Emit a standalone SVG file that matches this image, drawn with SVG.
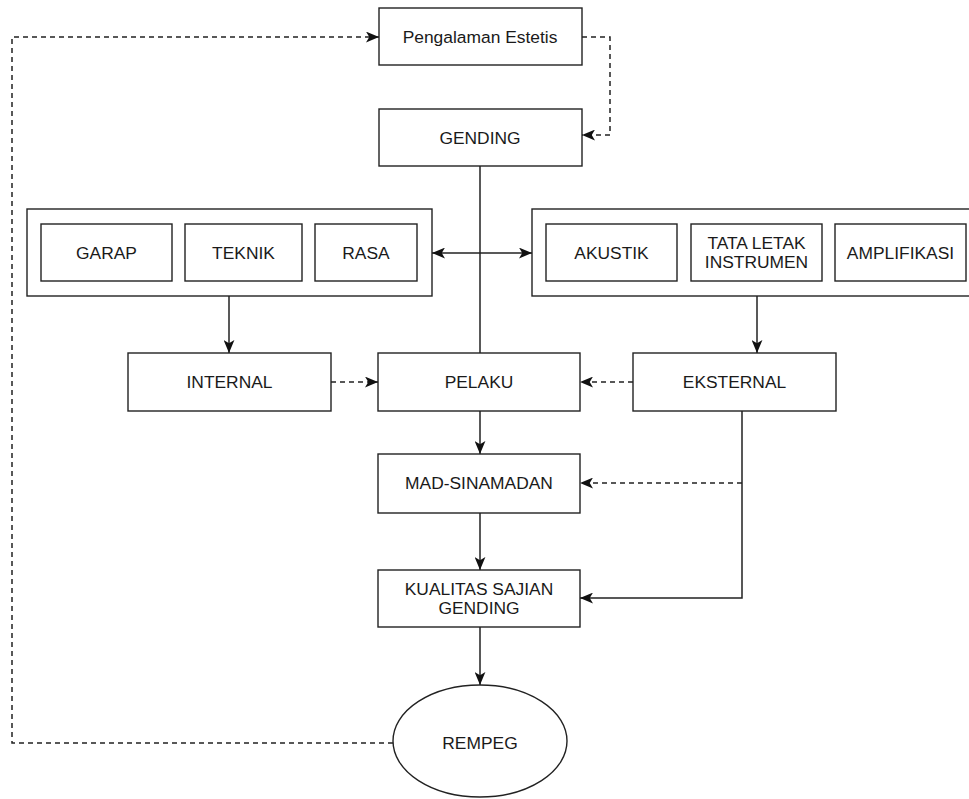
<svg xmlns="http://www.w3.org/2000/svg" width="969" height="799" viewBox="0 0 969 799">
<style>
.box{fill:#fff;stroke:#222;stroke-width:1.4}
.t{font-family:"Liberation Sans",Arial,sans-serif;font-size:17.4px;fill:#1a1a1a;text-anchor:middle;dominant-baseline:central}
.c{fill:none;stroke:#222;stroke-width:1.5}
.d{stroke-dasharray:5 4}
.a{marker-end:url(#arr)}
</style>
<defs>
<marker id="arr" viewBox="0 0 12 10" markerWidth="13" markerHeight="11" refX="12" refY="5" orient="auto-start-reverse" markerUnits="userSpaceOnUse">
<path d="M0,0 L12,5 L0,10 L3,5 Z" fill="#111"/>
</marker>
</defs>
<rect width="969" height="799" fill="#fff"/>
<g id="connectors">
<path class="c d a" d="M393,743 H12 V37 H379"/>
<path class="c d a" d="M582,37 H610 V135 H582"/>
<path class="c" d="M480,166 V353"/>
<path class="c" d="M432,253 H532" marker-start="url(#arr)" marker-end="url(#arr)"/>
<path class="c a" d="M229,296 V353"/>
<path class="c a" d="M757,296 V353"/>
<path class="c d a" d="M331,382 H378"/>
<path class="c d a" d="M633,382 H580"/>
<path class="c a" d="M480,411 V454"/>
<path class="c d a" d="M742,483 H580"/>
<path class="c a" d="M480,513 V570"/>
<path class="c a" d="M742,411 V598 H580"/>
<path class="c a" d="M480,627 V685"/>
</g>
<g id="pengalaman"><rect class="box" x="379" y="8" width="203" height="57"/><text class="t" x="480" y="37">Pengalaman Estetis</text></g>
<g id="gending"><rect class="box" x="379" y="109" width="203" height="57"/><text class="t" x="480" y="138">GENDING</text></g>
<g id="internal-group"><rect class="box" x="27" y="209" width="405" height="87"/></g>
<g id="garap"><rect class="box" x="41" y="224" width="131" height="57"/><text class="t" x="106.5" y="253">GARAP</text></g>
<g id="teknik"><rect class="box" x="185" y="224" width="117" height="57"/><text class="t" x="243.5" y="253">TEKNIK</text></g>
<g id="rasa"><rect class="box" x="315" y="224" width="102" height="57"/><text class="t" x="366" y="253">RASA</text></g>
<g id="eksternal-group"><rect class="box" x="532" y="209" width="455" height="87"/></g>
<g id="akustik"><rect class="box" x="546" y="224" width="131" height="57"/><text class="t" x="611.5" y="253">AKUSTIK</text></g>
<g id="tata-letak"><rect class="box" x="691" y="224" width="131" height="57"/><text class="t" x="756.5" y="243">TATA LETAK</text><text class="t" x="756.5" y="262">INSTRUMEN</text></g>
<g id="amplifikasi"><rect class="box" x="835" y="224" width="131" height="57"/><text class="t" x="900.5" y="253">AMPLIFIKASI</text></g>
<g id="internal"><rect class="box" x="128" y="353" width="203" height="58"/><text class="t" x="229.5" y="382">INTERNAL</text></g>
<g id="pelaku"><rect class="box" x="378" y="353" width="202" height="58"/><text class="t" x="479" y="382">PELAKU</text></g>
<g id="eksternal"><rect class="box" x="633" y="353" width="203" height="58"/><text class="t" x="734.5" y="382">EKSTERNAL</text></g>
<g id="mad-sinamadan"><rect class="box" x="378" y="454" width="202" height="59"/><text class="t" x="479" y="483">MAD-SINAMADAN</text></g>
<g id="kualitas"><rect class="box" x="378" y="570" width="202" height="57"/><text class="t" x="479" y="589">KUALITAS SAJIAN</text><text class="t" x="479" y="608">GENDING</text></g>
<g id="rempeg"><ellipse class="box" cx="480" cy="741" rx="87" ry="56"/><text class="t" x="480" y="743">REMPEG</text></g>
</svg>
